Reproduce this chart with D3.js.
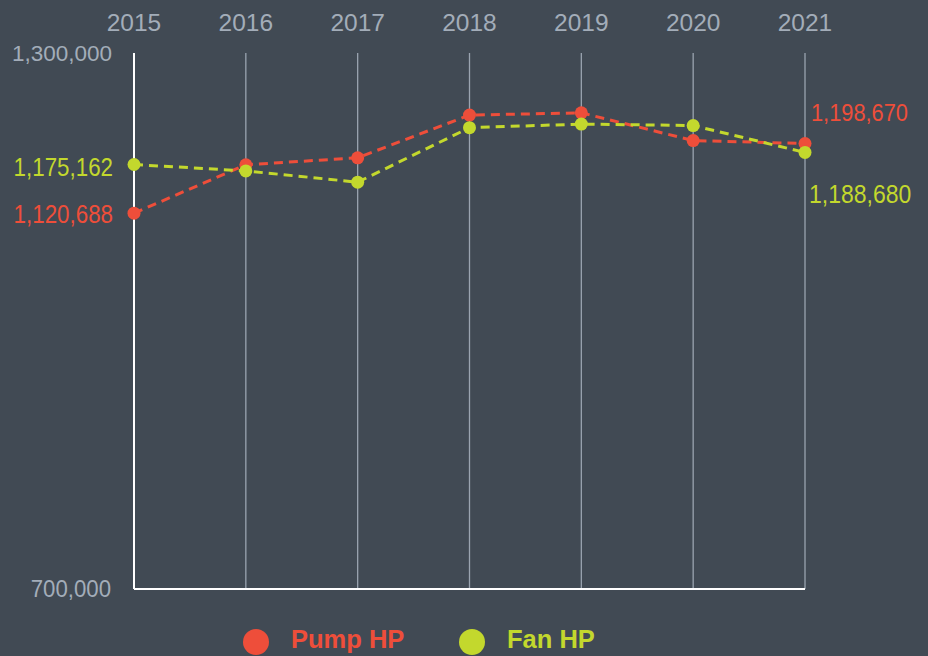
<!DOCTYPE html>
<html>
<head>
<meta charset="utf-8">
<script src="https://cdn.jsdelivr.net/npm/d3@7"></script>
<style>
  html, body { margin: 0; padding: 0; background: #414a54; }
  svg { display: block; }
</style>
</head>
<body>
<div id="chart"></div>
<script>
const years = [2015, 2016, 2017, 2018, 2019, 2020, 2021];
const pumpHP = [1120688, 1174900, 1182700, 1230500, 1233000, 1202000, 1198670];
const fanHP = [1175162, 1168000, 1155400, 1216400, 1220400, 1218800, 1188680];
const yTicks = [700000, 1300000];

const series = [
    { name: 'Pump HP', values: pumpHP, color: '#ee4e3a' },
    { name: 'Fan HP', values: fanHP, color: '#c3d82d' }
];

const width = 928, height = 656;
const margin = { top: 53, right: 123, bottom: 66, left: 134 };

const svg = d3.select('#chart').append('svg')
    .attr('width', width)
    .attr('height', height)
    .style('background', '#414a54');

const xScale = d3.scalePoint()
    .domain(years)
    .range([margin.left, width - margin.right]);

const yScale = d3.scaleLinear()
    .domain([700000, 1300000])
    .range([height - margin.bottom - 1, margin.top]);

const fmt = d3.format(',');
const sans = '"Liberation Sans", Arial, Helvetica, sans-serif';

// condensed text: regular font squeezed horizontally
function squeezedText(parent, x, y, anchor, sx, size, color, str) {
    return parent.append('text')
        .attr('transform', `translate(${x},${y}) scale(${sx},1)`)
        .attr('text-anchor', anchor)
        .attr('fill', color)
        .style('font-family', sans)
        .style('font-size', size + 'px')
        .text(str);
}

// Vertical grid lines
svg.append('g')
    .selectAll('line')
    .data(years)
    .join('line')
    .attr('x1', d => xScale(d))
    .attr('x2', d => xScale(d))
    .attr('y1', margin.top)
    .attr('y2', yScale(700000))
    .attr('stroke', (d, i) => i === 0 ? '#ffffff' : '#9aa4b0')
    .attr('stroke-width', (d, i) => i === 0 ? 2 : 1.3);

// Bottom axis line
svg.append('line')
    .attr('x1', xScale(years[0]))
    .attr('x2', xScale(years[years.length - 1]))
    .attr('y1', yScale(700000))
    .attr('y2', yScale(700000))
    .attr('stroke', '#ffffff')
    .attr('stroke-width', 2);

// Year labels on top
svg.append('g')
    .selectAll('text')
    .data(years)
    .join('text')
    .attr('x', d => xScale(d))
    .attr('y', 31)
    .attr('text-anchor', 'middle')
    .attr('fill', '#a3adb9')
    .style('font-family', sans)
    .style('font-size', '24.5px')
    .text(d => d);

// Y tick labels
squeezedText(svg, 112, 61, 'end', 1, 22.5, '#a3adb9', fmt(yTicks[1]));
squeezedText(svg, 111, yScale(yTicks[0]) + 8, 'end', 0.9, 24.7, '#a3adb9', fmt(yTicks[0]));

const line = d3.line()
    .x((d, i) => xScale(years[i]))
    .y(d => yScale(d));

series.forEach(s => {
    const g = svg.append('g');
    g.append('path')
        .datum(s.values)
        .attr('d', line)
        .attr('fill', 'none')
        .attr('stroke', s.color)
        .attr('stroke-width', 3)
        .attr('stroke-dasharray', '9,6');
    g.selectAll('circle')
        .data(s.values)
        .join('circle')
        .attr('cx', (d, i) => xScale(years[i]))
        .attr('cy', d => yScale(d))
        .attr('r', 6.5)
        .attr('fill', s.color);
});

// End value labels
const last = years.length - 1;
squeezedText(svg, 113, yScale(fanHP[0]) + 11, 'end', 0.86, 26, series[1].color, fmt(fanHP[0]));
squeezedText(svg, 113, yScale(pumpHP[0]) + 10, 'end', 0.86, 26, series[0].color, fmt(pumpHP[0]));
squeezedText(svg, 811, yScale(pumpHP[last]) - 23, 'start', 0.89, 24.5, series[0].color, fmt(pumpHP[last]));
squeezedText(svg, 809, yScale(fanHP[last]) + 51, 'start', 0.92, 25, series[1].color, fmt(fanHP[last]));

// Legend
const legend = svg.append('g')
    .selectAll('g')
    .data(series)
    .join('g')
    .attr('transform', (d, i) => `translate(${256 + i * 216}, 642)`);
legend.append('circle')
    .attr('r', 13)
    .attr('fill', d => d.color);
legend.append('text')
    .attr('x', 35)
    .attr('y', 5.5)
    .attr('fill', d => d.color)
    .style('font-family', sans)
    .style('font-weight', 'bold')
    .style('font-size', '25.5px')
    .text(d => d.name);
</script>
</body>
</html>
